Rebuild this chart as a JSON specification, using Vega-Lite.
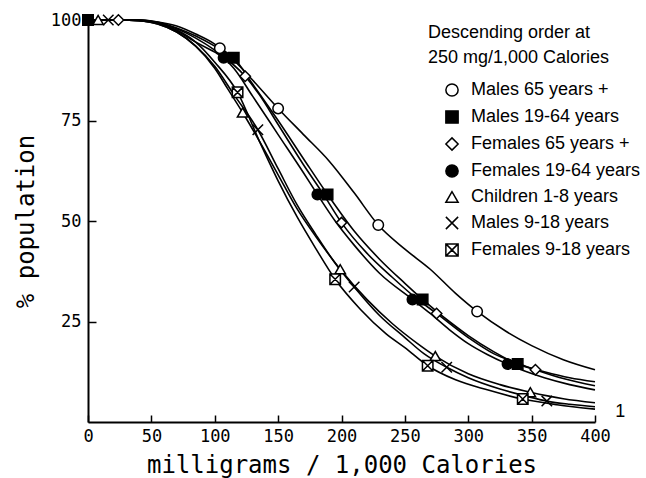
{
  "$schema": "https://vega.github.io/schema/vega-lite/v6.json",
  "width": 507,
  "height": 402,
  "autosize": "none",
  "padding": {"left": 88, "top": 20, "right": 51, "bottom": 56},
  "background": "white",
  "config": {
    "view": {"stroke": null},
    "axis": {"domainColor": "black", "domainWidth": 2, "tickColor": "black", "tickWidth": 1.5, "grid": false, "labelColor": "black", "titleColor": "black", "labelFont": "DejaVu Sans Mono", "labelFontSize": 17, "titleFont": "DejaVu Sans Mono", "titleFontSize": 24, "titleFontWeight": "normal", "labelFlush": false, "labelOverlap": false},
    "legend": {"titleFont": "Liberation Sans", "titleFontSize": 18, "titleFontWeight": "normal", "titleColor": "black", "titleLineHeight": 25, "titleLimit": 400, "labelLimit": 400, "labelFont": "Liberation Sans", "labelFontSize": 18, "labelColor": "black"}
  },
  "datasets": {
    "curves": [
      {"s": "Males 65 years +", "x": 0, "y": 100}, {"s": "Males 65 years +", "x": 25, "y": 100}, {"s": "Males 65 years +", "x": 40, "y": 100}, {"s": "Males 65 years +", "x": 55, "y": 99.5}, {"s": "Males 65 years +", "x": 70, "y": 98.5}, {"s": "Males 65 years +", "x": 85, "y": 96.5}, {"s": "Males 65 years +", "x": 100, "y": 94}, {"s": "Males 65 years +", "x": 115, "y": 90}, {"s": "Males 65 years +", "x": 130, "y": 85}, {"s": "Males 65 years +", "x": 150, "y": 78}, {"s": "Males 65 years +", "x": 170, "y": 71.5}, {"s": "Males 65 years +", "x": 190, "y": 65}, {"s": "Males 65 years +", "x": 210, "y": 57}, {"s": "Males 65 years +", "x": 229, "y": 49}, {"s": "Males 65 years +", "x": 250, "y": 43}, {"s": "Males 65 years +", "x": 270, "y": 38}, {"s": "Males 65 years +", "x": 290, "y": 32}, {"s": "Males 65 years +", "x": 307, "y": 27.5}, {"s": "Males 65 years +", "x": 330, "y": 22.5}, {"s": "Males 65 years +", "x": 350, "y": 19}, {"s": "Males 65 years +", "x": 375, "y": 15.5}, {"s": "Males 65 years +", "x": 400, "y": 13},
      {"s": "Males 19-64 years", "x": 0, "y": 100}, {"s": "Males 19-64 years", "x": 25, "y": 100}, {"s": "Males 19-64 years", "x": 40, "y": 100}, {"s": "Males 19-64 years", "x": 55, "y": 99.5}, {"s": "Males 19-64 years", "x": 70, "y": 98}, {"s": "Males 19-64 years", "x": 85, "y": 96}, {"s": "Males 19-64 years", "x": 100, "y": 93.5}, {"s": "Males 19-64 years", "x": 115, "y": 90.6}, {"s": "Males 19-64 years", "x": 130, "y": 84}, {"s": "Males 19-64 years", "x": 150, "y": 75}, {"s": "Males 19-64 years", "x": 170, "y": 65.5}, {"s": "Males 19-64 years", "x": 189, "y": 56.6}, {"s": "Males 19-64 years", "x": 210, "y": 47.5}, {"s": "Males 19-64 years", "x": 230, "y": 40.5}, {"s": "Males 19-64 years", "x": 250, "y": 34.5}, {"s": "Males 19-64 years", "x": 264, "y": 30.5}, {"s": "Males 19-64 years", "x": 285, "y": 25}, {"s": "Males 19-64 years", "x": 300, "y": 21.5}, {"s": "Males 19-64 years", "x": 320, "y": 17.5}, {"s": "Males 19-64 years", "x": 339, "y": 14.4}, {"s": "Males 19-64 years", "x": 360, "y": 12.5}, {"s": "Males 19-64 years", "x": 380, "y": 11}, {"s": "Males 19-64 years", "x": 400, "y": 10},
      {"s": "Females 65 years +", "x": 0, "y": 100}, {"s": "Females 65 years +", "x": 25, "y": 100}, {"s": "Females 65 years +", "x": 40, "y": 100}, {"s": "Females 65 years +", "x": 55, "y": 99.3}, {"s": "Females 65 years +", "x": 70, "y": 97.8}, {"s": "Females 65 years +", "x": 85, "y": 95.5}, {"s": "Females 65 years +", "x": 100, "y": 92.5}, {"s": "Females 65 years +", "x": 124, "y": 86}, {"s": "Females 65 years +", "x": 135, "y": 81.5}, {"s": "Females 65 years +", "x": 150, "y": 74}, {"s": "Females 65 years +", "x": 170, "y": 64}, {"s": "Females 65 years +", "x": 185, "y": 57}, {"s": "Females 65 years +", "x": 200, "y": 49.6}, {"s": "Females 65 years +", "x": 220, "y": 42}, {"s": "Females 65 years +", "x": 240, "y": 36}, {"s": "Females 65 years +", "x": 260, "y": 30.5}, {"s": "Females 65 years +", "x": 275, "y": 27}, {"s": "Females 65 years +", "x": 300, "y": 21}, {"s": "Females 65 years +", "x": 320, "y": 17}, {"s": "Females 65 years +", "x": 340, "y": 14.5}, {"s": "Females 65 years +", "x": 353, "y": 13}, {"s": "Females 65 years +", "x": 375, "y": 10.8}, {"s": "Females 65 years +", "x": 400, "y": 9},
      {"s": "Females 19-64 years", "x": 0, "y": 100}, {"s": "Females 19-64 years", "x": 25, "y": 100}, {"s": "Females 19-64 years", "x": 40, "y": 100}, {"s": "Females 19-64 years", "x": 55, "y": 99.2}, {"s": "Females 19-64 years", "x": 70, "y": 97.3}, {"s": "Females 19-64 years", "x": 85, "y": 94.5}, {"s": "Females 19-64 years", "x": 100, "y": 92}, {"s": "Females 19-64 years", "x": 107, "y": 90.6}, {"s": "Females 19-64 years", "x": 115, "y": 88}, {"s": "Females 19-64 years", "x": 130, "y": 81}, {"s": "Females 19-64 years", "x": 150, "y": 71.5}, {"s": "Females 19-64 years", "x": 170, "y": 62}, {"s": "Females 19-64 years", "x": 181, "y": 56.6}, {"s": "Females 19-64 years", "x": 195, "y": 50}, {"s": "Females 19-64 years", "x": 210, "y": 44}, {"s": "Females 19-64 years", "x": 230, "y": 37}, {"s": "Females 19-64 years", "x": 256, "y": 30.5}, {"s": "Females 19-64 years", "x": 270, "y": 27}, {"s": "Females 19-64 years", "x": 285, "y": 23}, {"s": "Females 19-64 years", "x": 300, "y": 19.5}, {"s": "Females 19-64 years", "x": 315, "y": 16.8}, {"s": "Females 19-64 years", "x": 331, "y": 14.4}, {"s": "Females 19-64 years", "x": 345, "y": 12.6}, {"s": "Females 19-64 years", "x": 360, "y": 11}, {"s": "Females 19-64 years", "x": 380, "y": 9.3}, {"s": "Females 19-64 years", "x": 400, "y": 8},
      {"s": "Children 1-8 years", "x": 0, "y": 100}, {"s": "Children 1-8 years", "x": 25, "y": 100}, {"s": "Children 1-8 years", "x": 40, "y": 99.8}, {"s": "Children 1-8 years", "x": 55, "y": 99}, {"s": "Children 1-8 years", "x": 70, "y": 97}, {"s": "Children 1-8 years", "x": 85, "y": 93.5}, {"s": "Children 1-8 years", "x": 100, "y": 88}, {"s": "Children 1-8 years", "x": 110, "y": 83}, {"s": "Children 1-8 years", "x": 122, "y": 77}, {"s": "Children 1-8 years", "x": 135, "y": 70}, {"s": "Children 1-8 years", "x": 150, "y": 61.5}, {"s": "Children 1-8 years", "x": 165, "y": 53}, {"s": "Children 1-8 years", "x": 180, "y": 46}, {"s": "Children 1-8 years", "x": 199, "y": 38}, {"s": "Children 1-8 years", "x": 220, "y": 30.5}, {"s": "Children 1-8 years", "x": 240, "y": 24.5}, {"s": "Children 1-8 years", "x": 260, "y": 19.5}, {"s": "Children 1-8 years", "x": 274, "y": 16.4}, {"s": "Children 1-8 years", "x": 300, "y": 12}, {"s": "Children 1-8 years", "x": 325, "y": 9.3}, {"s": "Children 1-8 years", "x": 349, "y": 7.4}, {"s": "Children 1-8 years", "x": 375, "y": 5.8}, {"s": "Children 1-8 years", "x": 400, "y": 4.8},
      {"s": "Males 9-18 years", "x": 0, "y": 100}, {"s": "Males 9-18 years", "x": 25, "y": 100}, {"s": "Males 9-18 years", "x": 40, "y": 99.8}, {"s": "Males 9-18 years", "x": 55, "y": 99}, {"s": "Males 9-18 years", "x": 70, "y": 97}, {"s": "Males 9-18 years", "x": 85, "y": 93.5}, {"s": "Males 9-18 years", "x": 100, "y": 88.5}, {"s": "Males 9-18 years", "x": 115, "y": 81.5}, {"s": "Males 9-18 years", "x": 134, "y": 72.7}, {"s": "Males 9-18 years", "x": 150, "y": 63}, {"s": "Males 9-18 years", "x": 165, "y": 54}, {"s": "Males 9-18 years", "x": 180, "y": 46.5}, {"s": "Males 9-18 years", "x": 195, "y": 39.5}, {"s": "Males 9-18 years", "x": 210, "y": 33.6}, {"s": "Males 9-18 years", "x": 230, "y": 26.5}, {"s": "Males 9-18 years", "x": 250, "y": 21}, {"s": "Males 9-18 years", "x": 265, "y": 17}, {"s": "Males 9-18 years", "x": 283, "y": 13.6}, {"s": "Males 9-18 years", "x": 300, "y": 11}, {"s": "Males 9-18 years", "x": 325, "y": 8.2}, {"s": "Males 9-18 years", "x": 345, "y": 6.5}, {"s": "Males 9-18 years", "x": 362, "y": 5.2}, {"s": "Males 9-18 years", "x": 380, "y": 4.4}, {"s": "Males 9-18 years", "x": 400, "y": 3.8},
      {"s": "Females 9-18 years", "x": 0, "y": 100}, {"s": "Females 9-18 years", "x": 25, "y": 100}, {"s": "Females 9-18 years", "x": 40, "y": 99.8}, {"s": "Females 9-18 years", "x": 55, "y": 99.2}, {"s": "Females 9-18 years", "x": 70, "y": 97.5}, {"s": "Females 9-18 years", "x": 85, "y": 94.5}, {"s": "Females 9-18 years", "x": 100, "y": 89.5}, {"s": "Females 9-18 years", "x": 118, "y": 82}, {"s": "Females 9-18 years", "x": 135, "y": 70}, {"s": "Females 9-18 years", "x": 150, "y": 60}, {"s": "Females 9-18 years", "x": 165, "y": 51}, {"s": "Females 9-18 years", "x": 180, "y": 43}, {"s": "Females 9-18 years", "x": 195, "y": 35.5}, {"s": "Females 9-18 years", "x": 215, "y": 28}, {"s": "Females 9-18 years", "x": 235, "y": 22}, {"s": "Females 9-18 years", "x": 250, "y": 18.5}, {"s": "Females 9-18 years", "x": 268, "y": 14}, {"s": "Females 9-18 years", "x": 290, "y": 10.5}, {"s": "Females 9-18 years", "x": 315, "y": 8}, {"s": "Females 9-18 years", "x": 343, "y": 5.7}, {"s": "Females 9-18 years", "x": 370, "y": 4.3}, {"s": "Females 9-18 years", "x": 400, "y": 3.2}
    ],
    "markers": [
      {"s": "Females 19-64 years", "x": 107, "y": 90.6}, {"s": "Females 19-64 years", "x": 181, "y": 56.6}, {"s": "Females 19-64 years", "x": 256, "y": 30.5}, {"s": "Females 19-64 years", "x": 331, "y": 14.4},
      {"s": "Males 65 years +", "x": 104, "y": 93}, {"s": "Males 65 years +", "x": 150, "y": 78}, {"s": "Males 65 years +", "x": 229, "y": 49}, {"s": "Males 65 years +", "x": 307, "y": 27.5},
      {"s": "Females 65 years +", "x": 24, "y": 100}, {"s": "Females 65 years +", "x": 124, "y": 86}, {"s": "Females 65 years +", "x": 200, "y": 49.6}, {"s": "Females 65 years +", "x": 275, "y": 27}, {"s": "Females 65 years +", "x": 353, "y": 13},
      {"s": "Males 9-18 years", "x": 16, "y": 100}, {"s": "Males 9-18 years", "x": 134, "y": 72.7}, {"s": "Males 9-18 years", "x": 210, "y": 33.6}, {"s": "Males 9-18 years", "x": 283, "y": 13.6}, {"s": "Males 9-18 years", "x": 362, "y": 5.2},
      {"s": "Children 1-8 years", "x": 8, "y": 100}, {"s": "Children 1-8 years", "x": 122, "y": 77}, {"s": "Children 1-8 years", "x": 199, "y": 38}, {"s": "Children 1-8 years", "x": 274, "y": 16.4}, {"s": "Children 1-8 years", "x": 349, "y": 7.4},
      {"s": "Females 9-18 years", "x": 118, "y": 82}, {"s": "Females 9-18 years", "x": 195, "y": 35.5}, {"s": "Females 9-18 years", "x": 268, "y": 14}, {"s": "Females 9-18 years", "x": 343, "y": 5.7},
      {"s": "Males 19-64 years", "x": 0, "y": 100}, {"s": "Males 19-64 years", "x": 115, "y": 90.6}, {"s": "Males 19-64 years", "x": 189, "y": 56.6}, {"s": "Males 19-64 years", "x": 264, "y": 30.5}, {"s": "Males 19-64 years", "x": 339, "y": 14.4}
    ],
    "note": [{"x": 420, "y": 2.6, "t": "1"}]
  },
  "layer": [
    {
      "data": {"name": "curves"},
      "mark": {"type": "line", "interpolate": "monotone", "strokeWidth": 1.6, "color": "black"},
      "encoding": {
        "x": {"field": "x", "type": "quantitative", "scale": {"domain": [0, 400], "nice": false},
          "axis": {"values": [0, 50, 100, 150, 200, 250, 300, 350, 400], "tickSize": -7, "labelPadding": 13, "title": "milligrams / 1,000 Calories", "titlePadding": 9}},
        "y": {"field": "y", "type": "quantitative", "scale": {"domain": [0, 100], "nice": false},
          "axis": {"values": [25, 50, 75, 100], "tickSize": -8, "labelPadding": 15, "title": "% population", "titlePadding": 12}},
        "detail": {"field": "s"}
      }
    },
    {
      "data": {"name": "markers"},
      "mark": {"type": "point", "filled": true, "stroke": "black", "strokeWidth": 1.5, "size": 110, "opacity": 1},
      "encoding": {
        "x": {"field": "x", "type": "quantitative"},
        "y": {"field": "y", "type": "quantitative"},
        "shape": {"field": "s", "type": "nominal",
          "scale": {"domain": ["Males 65 years +", "Males 19-64 years", "Females 65 years +", "Females 19-64 years", "Children 1-8 years", "Males 9-18 years", "Females 9-18 years"],
            "range": ["circle", "square", "diamond", "circle", "triangle-up", "M-1,-1L1,1M1,-1L-1,1", "M-1,-1H1V1H-1Z M-1,-1L1,1 M1,-1L-1,1"]},
          "legend": {"title": ["Descending order at", "250 mg/1,000 Calories"], "orient": "none", "legendX": 340, "legendY": 4, "padding": 0, "symbolOffset": 15, "labelOffset": 10, "rowPadding": 7, "titlePadding": 14, "symbolSize": 150,
            "encode": {"symbols": {"update": {"stroke": {"value": "black"}, "strokeWidth": {"value": 1.5}}}}}},
        "fill": {"field": "s", "type": "nominal",
          "scale": {"domain": ["Males 65 years +", "Males 19-64 years", "Females 65 years +", "Females 19-64 years", "Children 1-8 years", "Males 9-18 years", "Females 9-18 years"],
            "range": ["white", "black", "white", "black", "white", "white", "white"]},
          "legend": {"title": ["Descending order at", "250 mg/1,000 Calories"], "orient": "none", "legendX": 340, "legendY": 4, "padding": 0, "symbolOffset": 15, "labelOffset": 10, "rowPadding": 7, "titlePadding": 14, "symbolSize": 150,
            "encode": {"symbols": {"update": {"stroke": {"value": "black"}, "strokeWidth": {"value": 1.5}}}}}}
      }
    },
    {
      "data": {"name": "note"},
      "mark": {"type": "text", "font": "Liberation Sans", "fontSize": 18, "color": "black", "align": "center", "baseline": "middle"},
      "encoding": {
        "x": {"field": "x", "type": "quantitative"},
        "y": {"field": "y", "type": "quantitative"},
        "text": {"field": "t"}
      }
    }
  ]
}
